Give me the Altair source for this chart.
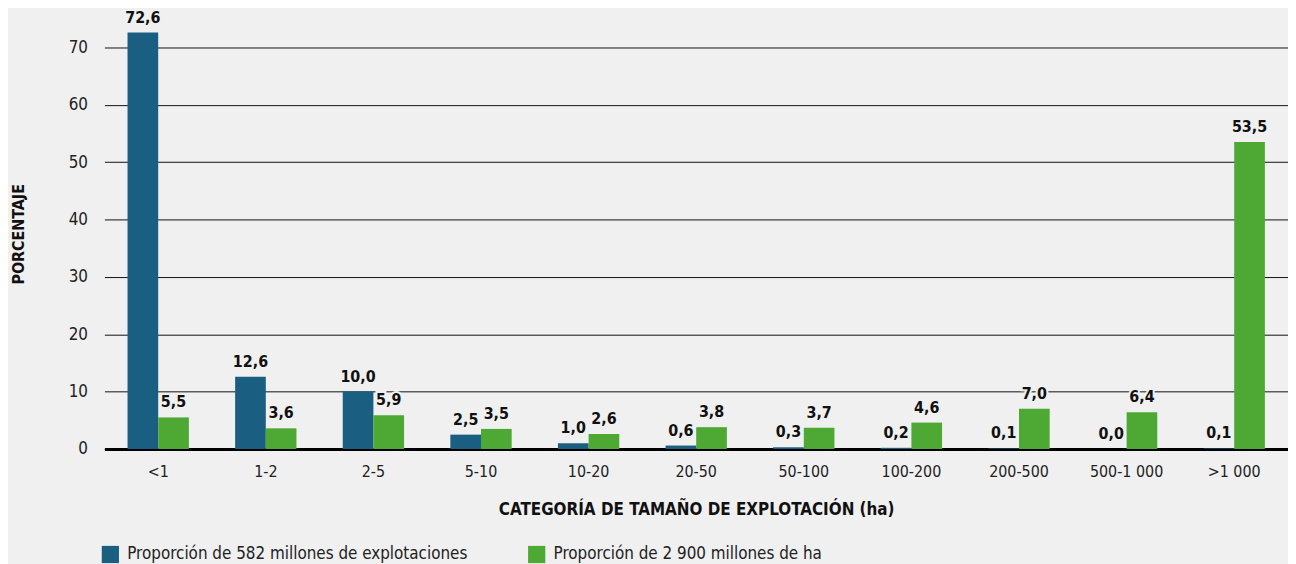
import altair as alt
import pandas as pd

categories = ["<1", "1-2", "2-5", "5-10", "10-20", "20-50", "50-100", "100-200", "200-500", "500-1 000", ">1 000"]
farms_share = [72.6, 12.6, 10.0, 2.5, 1.0, 0.6, 0.3, 0.2, 0.1, 0.0, 0.1]
area_share = [5.5, 3.6, 5.9, 3.5, 2.6, 3.8, 3.7, 4.6, 7.0, 6.4, 53.5]
series_names = ["Proporción de 582 millones de explotaciones", "Proporción de 2 900 millones de ha"]
colors = ["#1a5f82", "#4ea834"]

rows = []
for i, c in enumerate(categories):
    for s, vals in zip(series_names, [farms_share, area_share]):
        v = vals[i]
        rows.append({"cat": c, "serie": s, "val": v, "lbl": f"{v:.1f}".replace(".", ",")})
df = pd.DataFrame(rows)

FONT = "Liberation Sans Narrow, DejaVu Sans Condensed, Roboto, sans-serif"
BG = "#f0f0f0"

base = alt.Chart(df)
xenc = alt.X("cat:N", sort=categories, title="CATEGORÍA DE TAMAÑO DE EXPLOTACIÓN (ha)",
             scale=alt.Scale(paddingInner=0.43, paddingOuter=0.215),
             axis=alt.Axis(labelAngle=0, labelFontSize=16, labelColor="#222", labelPadding=15,
                           ticks=False, domain=True, domainColor="#000", domainWidth=3,
                           titleFontSize=17, titleFontWeight="bold", titleColor="#111", titlePadding=22))
yenc = alt.Y("val:Q", title="PORCENTAJE", scale=alt.Scale(domain=[0, 75], nice=False),
             axis=alt.Axis(values=[0, 10, 20, 30, 40, 50, 60, 70], labelFontSize=17, labelColor="#222",
                           labelPadding=17, ticks=False, domain=False, grid=True, gridColor="#111",
                           gridWidth=1, titleFontSize=16, titleFontWeight="bold", titleColor="#111",
                           titlePadding=42))
col = alt.Color("serie:N", sort=series_names, scale=alt.Scale(domain=series_names, range=colors),
                legend=alt.Legend(title=None, orient="none", legendX=-3, legendY=530, direction="horizontal",
                                  columns=2, symbolType="square", symbolSize=300, symbolStrokeWidth=0,
                                  labelFontSize=17, labelColor="#222", labelLimit=600, columnPadding=60,
                                  labelOffset=8))
xoff = alt.XOffset("serie:N", sort=series_names)

bars = base.mark_bar().encode(x=xenc, y=yenc, color=col, xOffset=xoff)
halo = base.mark_text(baseline="bottom", dy=-7, fontSize=16, fontWeight="bold", font=FONT,
                      stroke=BG, strokeWidth=4, color=BG).encode(
    x=alt.X("cat:N", sort=categories), y="val:Q", xOffset=xoff, text="lbl:N")
labels = base.mark_text(baseline="bottom", dy=-7, fontSize=16, fontWeight="bold", font=FONT,
                        color="#111").encode(
    x=alt.X("cat:N", sort=categories), y="val:Q", xOffset=xoff, text="lbl:N")

chart = alt.layer(bars, halo, labels).properties(
    width=1191, height=433,
    autosize=alt.AutoSizeParams(type="none"),
    padding={"left": 97, "top": 9, "right": 0, "bottom": 114},
    background=BG,
).configure(font=FONT).configure_view(stroke=None)

chart.save("out.html", embed_options={"renderer": "svg", "actions": False})
